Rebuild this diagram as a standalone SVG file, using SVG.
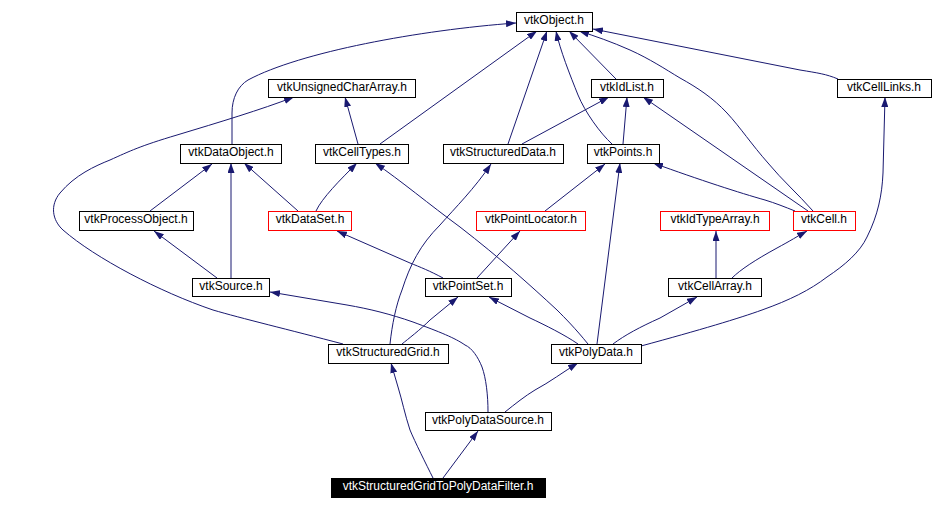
<svg xmlns="http://www.w3.org/2000/svg" width="933" height="509" viewBox="0 0 933 509">
<style>
.n rect{fill:#fff;stroke:#000;stroke-width:1}
.n.r rect{stroke:#f00}
.n.b rect{fill:#000}
.n text{font-family:"Liberation Sans",Arial,sans-serif;font-size:12px;fill:#000;text-anchor:middle}
.n.b text{fill:#fff}
#edges path{fill:none;stroke:#191970;stroke-width:1;marker-end:url(#a)}
</style>
<defs>
<marker id="a" markerWidth="10" markerHeight="7" refX="10" refY="3.5" orient="auto" markerUnits="userSpaceOnUse"><path d="M0,0 L10,3.5 L0,7 z" fill="#191970" stroke="none"/></marker>
</defs>
<rect width="933" height="509" fill="#fff"/>
<g id="edges">
<path d="M232,144 L232,113 C232,98 238,86 248,80 C300,52 420,30 516,23"/>
<path d="M380,144 L537,31"/>
<path d="M508,144 L547,31"/>
<path d="M612,144 C600,133 585,112 578,95 C570,75 560,50 556,31"/>
<path d="M616,79 L569,31"/>
<path d="M813,211 C798,194 782,180 768,163 C752,145 740,127 727,113 C713,98 698,88 680,78 C665,69 650,59 630,50 C612,42 595,36 579,31"/>
<path d="M838,79 C826,74 818,73 800,70 L593,29"/>
<path d="M358,144 L345,97"/>
<path d="M343,344 C290,330 240,318 213,310 C160,292 95,258 63,230 C52,220 50,205 60,193 C75,175 95,166 110,160 C130,151 140,146 177,135 C220,122 260,110 294,97"/>
<path d="M522,144 L609,97"/>
<path d="M623,144 L627,97"/>
<path d="M808,211 L643,97"/>
<path d="M150,211 L212,164"/>
<path d="M231,278 L231,163"/>
<path d="M298,211 L244,163"/>
<path d="M316,211 C322,198 340,180 357,163"/>
<path d="M588,344 C575,328 565,318 557,310 C530,285 500,258 460,227 C430,205 400,180 375,163"/>
<path d="M217,278 L154,231"/>
<path d="M443,278 C430,271 420,267 410,263 L337,231"/>
<path d="M390,344 C392,325 396,305 402,290 C410,265 420,245 440,225 C455,208 475,188 491,164"/>
<path d="M545,211 L605,164"/>
<path d="M597,344 L620,163"/>
<path d="M795,211 C785,207 775,203 765,200 C740,193 700,180 653,163"/>
<path d="M477,278 L520,231"/>
<path d="M716,278 L716,231"/>
<path d="M732,278 C740,270 755,260 777,248 C790,241 798,236 807,231"/>
<path d="M641,346 C700,330 740,318 762,310 C790,300 810,290 827,277 C845,265 860,252 867,237 C878,215 882,195 883,173 L885,97"/>
<path d="M578,344 C565,335 545,325 530,318 L489,297"/>
<path d="M613,344 C625,335 640,327 660,318 L697,297"/>
<path d="M402,344 C408,339 420,330 430,320 L458,297"/>
<path d="M488,412 C488,395 486,378 482,367 C478,357 472,348 465,345 C455,338 440,332 413,322 C390,314 370,309 347,305 L270,292"/>
<path d="M505,412 C515,404 525,396 535,390 C550,382 563,372 578,363"/>
<path d="M433,478 C426,464 415,442 410,430 C405,415 402,400 398,387 L391,363"/>
<path d="M443,478 L478,431"/>
</g>
<g id="vtkObject" class="n"><rect x="516.5" y="12.5" width="76" height="19"/><text x="554" y="24">vtkObject.h</text></g>
<g id="vtkUnsignedCharArray" class="n"><rect x="268.5" y="79.5" width="147" height="18"/><text x="342" y="91">vtkUnsignedCharArray.h</text></g>
<g id="vtkIdList" class="n"><rect x="591.5" y="79.5" width="72" height="18"/><text x="627" y="91">vtkIdList.h</text></g>
<g id="vtkCellLinks" class="n"><rect x="837.5" y="79.5" width="94" height="18"/><text x="884" y="91">vtkCellLinks.h</text></g>
<g id="vtkDataObject" class="n"><rect x="180.5" y="144.5" width="101" height="19"/><text x="231" y="156">vtkDataObject.h</text></g>
<g id="vtkCellTypes" class="n"><rect x="315.5" y="144.5" width="93" height="19"/><text x="362" y="156">vtkCellTypes.h</text></g>
<g id="vtkStructuredData" class="n"><rect x="443.5" y="144.5" width="120" height="19"/><text x="503" y="156">vtkStructuredData.h</text></g>
<g id="vtkPoints" class="n"><rect x="587.5" y="144.5" width="72" height="19"/><text x="623" y="156">vtkPoints.h</text></g>
<g id="vtkProcessObject" class="n"><rect x="79.5" y="211.5" width="114" height="19"/><text x="136" y="223">vtkProcessObject.h</text></g>
<g id="vtkDataSet" class="n r"><rect x="268.5" y="211.5" width="83" height="19"/><text x="310" y="223">vtkDataSet.h</text></g>
<g id="vtkPointLocator" class="n r"><rect x="476.5" y="211.5" width="109" height="19"/><text x="531" y="223">vtkPointLocator.h</text></g>
<g id="vtkIdTypeArray" class="n r"><rect x="660.5" y="211.5" width="109" height="19"/><text x="715" y="223">vtkIdTypeArray.h</text></g>
<g id="vtkCell" class="n r"><rect x="793.5" y="211.5" width="62" height="19"/><text x="824" y="223">vtkCell.h</text></g>
<g id="vtkSource" class="n"><rect x="192.5" y="278.5" width="77" height="18"/><text x="231" y="290">vtkSource.h</text></g>
<g id="vtkPointSet" class="n"><rect x="425.5" y="278.5" width="86" height="18"/><text x="468" y="290">vtkPointSet.h</text></g>
<g id="vtkCellArray" class="n"><rect x="668.5" y="278.5" width="93" height="18"/><text x="715" y="290">vtkCellArray.h</text></g>
<g id="vtkStructuredGrid" class="n"><rect x="328.5" y="344.5" width="120" height="19"/><text x="388" y="356">vtkStructuredGrid.h</text></g>
<g id="vtkPolyData" class="n"><rect x="551.5" y="344.5" width="90" height="19"/><text x="596" y="356">vtkPolyData.h</text></g>
<g id="vtkPolyDataSource" class="n"><rect x="425.5" y="412.5" width="126" height="18"/><text x="488" y="424">vtkPolyDataSource.h</text></g>
<g id="vtkStructuredGridToPolyDataFilter" class="n b"><rect x="331.5" y="478.5" width="214" height="19"/><text x="438" y="490">vtkStructuredGridToPolyDataFilter.h</text></g>
</svg>
